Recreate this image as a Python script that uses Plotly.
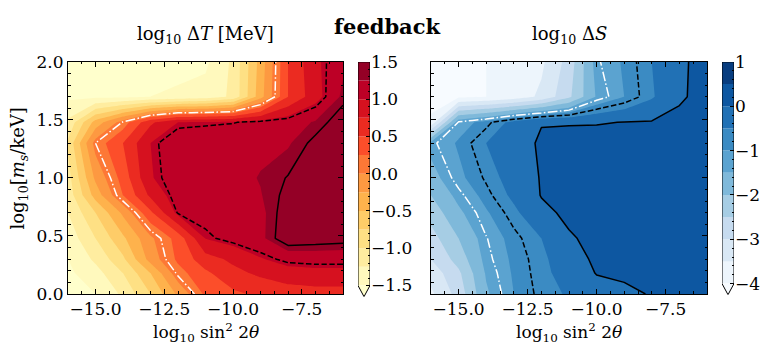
import numpy as np
import plotly.graph_objects as go

# ---------------------------------------------------------------------------
# Grid: log10 sin^2(2 theta) (columns) and log10 m_s/keV (rows)
# ---------------------------------------------------------------------------
log_sin2 = [-16, -15, -14, -13, -12, -11, -10, -9, -8, -7, -6]
log_ms = [0.0, 0.18, 0.3, 0.48, 0.7, 0.85, 1.0, 1.3, 1.48, 1.7, 2.0]

# log10 Delta T [MeV], one row per mass value (bottom to top)
log_dT = [
    [-1.60, -1.50, -1.20, -0.75, -0.20, 0.30, 0.45, 0.55, 0.62, 0.65, 0.65],
    [-1.55, -1.35, -1.00, -0.50, 0.15, 0.45, 0.68, 0.80, 0.90, 0.93, 0.93],
    [-1.50, -1.20, -0.80, -0.15, 0.30, 0.65, 0.80, 0.98, 1.10, 1.12, 1.12],
    [-1.40, -1.00, -0.55, -0.05, 0.35, 1.01, 1.12, 1.20, 1.48, 1.45, 1.42],
    [-1.25, -0.75, -0.20, 0.45, 1.07, 1.12, 1.15, 1.20, 1.45, 1.47, 1.48],
    [-1.15, -0.40, 0.25, 0.80, 1.15, 1.17, 1.19, 1.24, 1.40, 1.45, 1.47],
    [-1.10, -0.20, 0.35, 0.98, 1.15, 1.17, 1.19, 1.26, 1.36, 1.45, 1.48],
    [-0.95, 0.10, 0.50, 1.00, 1.17, 1.19, 1.20, 1.21, 1.23, 1.40, 1.45],
    [-1.20, -0.40, 0.12, 0.70, 1.00, 1.02, 1.04, 1.10, 1.15, 1.27, 1.45],
    [-1.55, -1.55, -1.55, -1.50, -1.45, -1.40, -1.20, -0.35, 0.50, 0.90, 1.30],
    [-1.60, -1.60, -1.60, -1.60, -1.60, -1.55, -1.20, -0.40, 0.50, 0.95, 1.20],
]

# log10 Delta S, same grid
log_dS = [
    [-3.60, -2.80, -1.57, -1.00, -0.66, -0.45, -0.20, -0.10, 0.03, 0.15, 0.20],
    [-3.30, -2.60, -1.45, -0.95, -0.62, -0.30, 0.02, 0.08, 0.20, 0.28, 0.30],
    [-3.00, -2.30, -1.35, -0.92, -0.60, -0.20, 0.08, 0.15, 0.25, 0.30, 0.30],
    [-2.70, -2.00, -1.27, -0.85, -0.50, -0.05, 0.12, 0.20, 0.25, 0.30, 0.30],
    [-2.30, -1.60, -1.05, -0.60, -0.12, 0.10, 0.18, 0.25, 0.30, 0.30, 0.30],
    [-2.00, -1.35, -0.85, -0.40, 0.02, 0.10, 0.20, 0.25, 0.30, 0.30, 0.30],
    [-1.70, -1.10, -0.70, -0.30, 0.03, 0.12, 0.20, 0.25, 0.30, 0.30, 0.30],
    [-1.33, -0.95, -0.50, -0.20, 0.06, 0.15, 0.20, 0.25, 0.30, 0.30, 0.30],
    [-3.90, -1.20, -0.85, -0.35, -0.02, -0.03, -0.03, 0.01, 0.03, 0.15, 0.25],
    [-4.20, -4.10, -4.00, -3.80, -3.40, -2.60, -1.45, -1.00, -0.55, -0.08, 0.20],
    [-4.30, -4.20, -4.00, -3.85, -3.60, -2.80, -1.30, -0.95, -0.50, -0.10, 0.20],
]

# filled-contour levels and colour-bar ticks
dT_levels = [-1.5, -1.25, -1.0, -0.75, -0.5, -0.25, 0.0, 0.25, 0.5, 0.75, 1.0, 1.25, 1.5]
dS_levels = [-4.0, -3.5, -3.0, -2.5, -2.0, -1.5, -1.0, -0.5, 0.0, 0.5, 1.0]
dT_cbar_ticks = [-1.5, -1.0, -0.5, 0.0, 0.5, 1.0, 1.5]
dS_cbar_ticks = [-4, -3, -2, -1, 0, 1]

# overlaid reference contours: (level, colour, dash)
dT_lines = [(0.1, "white", "9.6px,2.4px,1.5px,2.4px"),
            (1.05, "black", "5.5px,2.4px"),
            (1.35, "black", "solid")]
dS_lines = [(-1.25, "white", "9.6px,2.4px,1.5px,2.4px"),
            (-0.75, "black", "5.5px,2.4px"),
            (0.0, "black", "solid")]

x_ticks = [-15.0, -12.5, -10.0, -7.5]
y_ticks = [0.0, 0.5, 1.0, 1.5, 2.0]

# ---------------------------------------------------------------------------
YLORRD = ["#ffffcc", "#ffeda0", "#fed976", "#feb24c", "#fd8d3c",
          "#fc4e2a", "#e31a1c", "#bd0026", "#800026"]
BLUES = ["#f7fbff", "#deebf7", "#c6dbef", "#9ecae1", "#6baed6",
         "#4292c6", "#2171b5", "#08519c", "#08306b"]

FONT = "DejaVu Serif"
FS = 17
W, H = 765, 354


def px(p):
    return p / W


def py(p):
    return 1 - p / H


def sample(anchors, t):
    rgb = np.array([[int(h[i:i + 2], 16) for i in (1, 3, 5)] for h in anchors], float)
    pos = np.linspace(0, 1, len(anchors))
    c = [int(round(np.interp(t, pos, rgb[:, k]))) for k in range(3)]
    return "rgb(%d,%d,%d)" % tuple(c)


def band_colors(anchors, nbands):
    under = sample(anchors, 0.0)
    bands = [sample(anchors, (k + 0.5) / nbands) for k in range(nbands)]
    return under, bands


def filled(z, levels, under, bands, xa, ya):
    n = len(bands)
    cols = [under] + bands
    scale = [[k / n, c] for k, c in enumerate(cols)]
    step = levels[1] - levels[0]
    return go.Contour(
        x=log_sin2, y=log_ms, z=z, colorscale=scale, autocontour=False,
        contours=dict(start=levels[0], end=levels[-2], size=step,
                      coloring="fill", showlines=False),
        line=dict(width=0, smoothing=0), showscale=False,
        hoverinfo="skip", xaxis=xa, yaxis=ya)


def line_trace(z, level, color, dash, xa, ya):
    return go.Contour(
        x=log_sin2, y=log_ms, z=z, autocontour=False,
        contours=dict(start=level, end=level, size=1, coloring="none"),
        line=dict(color=color, width=1.5, dash=dash, smoothing=0),
        showscale=False, hoverinfo="skip", xaxis=xa, yaxis=ya)


def cbar_traces(levels, under, bands, xa, ya):
    lo, hi = levels[0], levels[-1]
    ext = 0.05 * (hi - lo)
    steps = [b - a for a, b in zip(levels[:-1], levels[1:])]
    out = [go.Bar(x=[0.5] * len(bands), y=steps, base=levels[:-1], width=1,
                  marker=dict(color=bands, line=dict(width=0)),
                  hoverinfo="skip", showlegend=False, xaxis=xa, yaxis=ya)]
    out.append(go.Scatter(x=[0, 1, 0.5, 0], y=[lo, lo, lo - ext, lo], mode="lines",
                          fill="toself", fillcolor=under, line=dict(width=0),
                          hoverinfo="skip", showlegend=False, xaxis=xa, yaxis=ya))
    out.append(go.Scatter(x=[0, 0, 1, 1, 0.5, 0], y=[lo, hi, hi, lo, lo - ext, lo],
                          mode="lines", line=dict(color="black", width=1),
                          hoverinfo="skip", showlegend=False, xaxis=xa, yaxis=ya))
    return out, ext


dT_under, dT_bands = band_colors(YLORRD, len(dT_levels) - 1)
dS_under, dS_bands = band_colors(BLUES, len(dS_levels) - 1)

fig = go.Figure()
fig.add_trace(filled(log_dT, dT_levels, dT_under, dT_bands, "x", "y"))
for lev, col, dash in dT_lines:
    fig.add_trace(line_trace(log_dT, lev, col, dash, "x", "y"))
fig.add_trace(filled(log_dS, dS_levels, dS_under, dS_bands, "x2", "y2"))
for lev, col, dash in dS_lines:
    fig.add_trace(line_trace(log_dS, lev, col, dash, "x2", "y2"))

cb1, ext1 = cbar_traces(dT_levels, dT_under, dT_bands, "x3", "y3")
cb2, ext2 = cbar_traces(dS_levels, dS_under, dS_bands, "x4", "y4")
for t in cb1 + cb2:
    fig.add_trace(t)

tickfont = dict(family=FONT, size=FS, color="black")
frame = dict(showline=True, linecolor="black", linewidth=1, mirror="allticks",
             ticks="inside", ticklen=5, tickwidth=1, tickcolor="black",
             showgrid=False, zeroline=False, tickfont=tickfont)
xminor = dict(ticks="inside", ticklen=2.5, tickwidth=0.8, tickcolor="black",
              dtick=0.5, tick0=-16, showgrid=False)
yminor = dict(ticks="inside", ticklen=2.5, tickwidth=0.8, tickcolor="black",
              dtick=0.1, tick0=0, showgrid=False)

ydom = [py(301), py(55)]
fig.update_layout(
    width=W, height=H, margin=dict(l=0, r=0, t=0, b=0),
    paper_bgcolor="white", plot_bgcolor="white", showlegend=False,
    barmode="overlay", font=dict(family=FONT, size=FS, color="black"),
    xaxis=dict(frame, domain=[px(68), px(343)], range=[-16, -6], anchor="y",
               tickmode="array", tickvals=x_ticks, tickformat=".1f", minor=xminor),
    yaxis=dict(frame, domain=ydom, range=[0, 2], anchor="x",
               tickmode="array", tickvals=y_ticks, tickformat=".1f", minor=yminor),
    xaxis2=dict(frame, domain=[px(431), px(707)], range=[-16, -6], anchor="y2",
                tickmode="array", tickvals=x_ticks, tickformat=".1f", minor=xminor),
    yaxis2=dict(frame, domain=ydom, range=[0, 2], anchor="x2", showticklabels=False,
                tickmode="array", tickvals=y_ticks, minor=yminor),
    xaxis3=dict(domain=[px(358), px(370)], range=[0, 1], anchor="y3", visible=False),
    yaxis3=dict(domain=[py(55 + 237 * 1.05), py(55)],
                range=[dT_levels[0] - ext1, dT_levels[-1]], anchor="x3", side="right",
                showgrid=False, zeroline=False, showline=False,
                ticks="inside", ticklen=4, tickwidth=1, tickcolor="black",
                tickmode="array", tickvals=dT_cbar_ticks, tickformat=".1f",
                tickfont=tickfont,
                minor=dict(ticks="inside", ticklen=2, tickwidth=0.8, tickcolor="black",
                           tickmode="array",
                           tickvals=[round(v, 2) for v in np.arange(-1.5, 1.51, 0.1)])),
    xaxis4=dict(domain=[px(722), px(734)], range=[0, 1], anchor="y4", visible=False),
    yaxis4=dict(domain=[py(55 + 235 * 1.05), py(55)],
                range=[dS_levels[0] - ext2, dS_levels[-1]], anchor="x4", side="right",
                showgrid=False, zeroline=False, showline=False,
                ticks="inside", ticklen=4, tickwidth=1, tickcolor="black",
                tickmode="array", tickvals=dS_cbar_ticks, tickformat="d",
                tickfont=tickfont,
                minor=dict(ticks="inside", ticklen=2, tickwidth=0.8, tickcolor="black",
                           tickmode="array",
                           tickvals=[round(v, 2) for v in np.arange(-4, 1.01, 0.2)])),
)

ann = [
    dict(text="<b>feedback</b>", x=px(387), y=py(18), font=dict(size=21)),
    dict(text="log<sub>10</sub> Δ<i>T</i> [MeV]", x=px(205.5), y=py(27),
         font=dict(size=18)),
    dict(text="log<sub>10</sub> Δ<i>S</i>", x=px(569), y=py(27), font=dict(size=18)),
    dict(text="log<sub>10</sub> sin<sup>2</sup> 2<i>θ</i>", x=px(205.5), y=py(342)),
    dict(text="log<sub>10</sub> sin<sup>2</sup> 2<i>θ</i>", x=px(569), y=py(342)),
    dict(text="log<sub>10</sub>[<i>m<sub>s</sub></i>/keV]", x=px(19), y=py(168),
         textangle=-90, font=dict(size=18)),
]
for a in ann:
    a.update(xref="paper", yref="paper", showarrow=False,
             xanchor="center", yanchor="middle")
    f = dict(family=FONT, size=FS, color="black")
    f.update(a.get("font", {}))
    a["font"] = f
fig.update_layout(annotations=ann)

fig.write_html("out.html")
